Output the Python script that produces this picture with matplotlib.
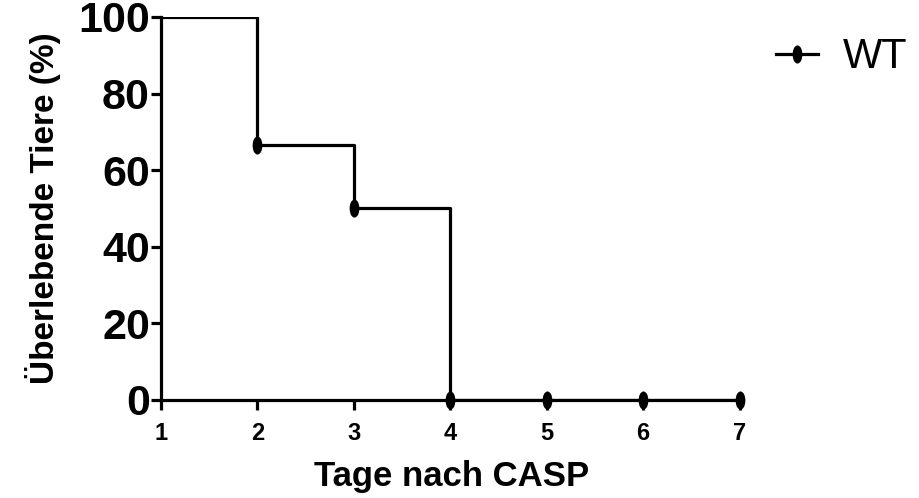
import matplotlib
matplotlib.use("Agg")
import matplotlib.pyplot as plt
from matplotlib.path import Path
from matplotlib.transforms import Affine2D
from matplotlib.lines import Line2D

plt.rcParams['font.family'] = ['Liberation Sans', 'DejaVu Sans']

days = [1, 2, 3, 4, 5, 6, 7]
survival = [100, 66.67, 50, 0, 0, 0, 0]
censor_days = [2, 3, 4, 5, 6, 7]
censor_vals = [66.67, 50, 0, 0, 0, 0]
xticks = [1, 2, 3, 4, 5, 6, 7]
yticks = [0, 20, 40, 60, 80, 100]

ell = Path.unit_circle().transformed(Affine2D().scale(0.5, 1.0))

fig = plt.figure(figsize=(9.2, 4.98), dpi=100)
ax = fig.add_axes([0.175, 0.197, 0.632, 0.769])

ax.step(days, survival, where='post', color='black', lw=2.3, zorder=3)
ax.plot(censor_days, censor_vals, ls='none', marker=ell, ms=12, color='black',
        zorder=4, clip_on=False)

ax.set_xlim(1, 7.03)
ax.set_ylim(0, 100)
ax.set_xticks(xticks)
ax.set_yticks(yticks)
ax.spines['top'].set_visible(False)
ax.spines['right'].set_visible(False)
for s in ['left', 'bottom']:
    ax.spines[s].set_linewidth(2.3)
ax.tick_params(axis='both', width=2.3, length=7, color='black')
ax.tick_params(axis='y', labelsize=31, pad=1)
ax.tick_params(axis='x', labelsize=17, pad=9)
for lab in ax.get_yticklabels() + ax.get_xticklabels():
    lab.set_fontweight('bold')

ax.set_xlabel('Tage nach CASP', fontsize=25, fontweight='bold', labelpad=11)
ax.set_ylabel('Überlebende Tiere (%)', fontsize=24, fontweight='bold', labelpad=12)

h = Line2D([], [], color='black', lw=2.3, marker=ell, ms=12)
fig.legend([h], ['WT'], loc='upper left', bbox_to_anchor=(0.803, 1.0),
           frameon=False, fontsize=30, handlelength=1.0, handletextpad=0.6)

fig.savefig('out.png', dpi=100)
